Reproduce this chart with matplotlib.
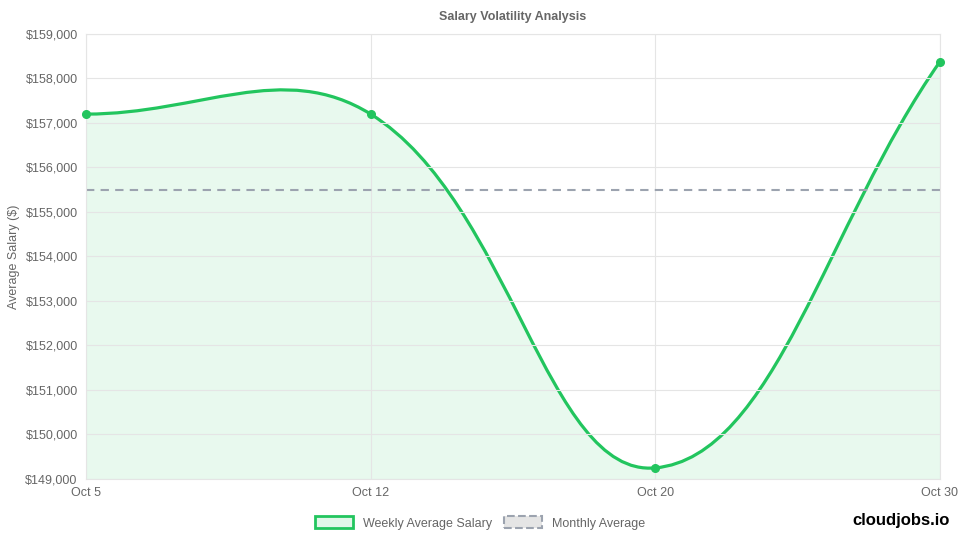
import numpy as np
import matplotlib.pyplot as plt
from matplotlib.path import Path
from matplotlib.patches import PathPatch, Patch

plt.rcParams['font.family'] = ['Liberation Sans', 'DejaVu Sans']

labels = ["Oct 5", "Oct 12", "Oct 20", "Oct 30"]
salary = [157200, 157200, 149250, 158380]
monthly_avg = 155500
green = "#22c55e"

fig = plt.figure(figsize=(9.6, 5.4), dpi=100)
ax = fig.add_axes([86/960, 1-479/540, 854/960, 445/540])
ax.set_xlim(0, 3)
ax.set_ylim(149000, 159000)

# Chart.js-style spline (tension 0.4) computed in pixel space
sx, sy = 854/3, 445/10000
px = np.arange(len(salary)) * sx
py = np.array(salary) * sy
t = 0.4
cps = []
for i in range(len(px)):
    p0 = (px[max(i-1, 0)], py[max(i-1, 0)])
    p1 = (px[i], py[i])
    p2 = (px[min(i+1, len(px)-1)], py[min(i+1, len(px)-1)])
    d01 = np.hypot(p1[0]-p0[0], p1[1]-p0[1])
    d12 = np.hypot(p2[0]-p1[0], p2[1]-p1[1])
    tot = d01 + d12
    s01 = d01/tot if tot else 0
    s12 = d12/tot if tot else 0
    fa, fb = t*s01, t*s12
    c_prev = (p1[0]-fa*(p2[0]-p0[0]), p1[1]-fa*(p2[1]-p0[1]))
    c_next = (p1[0]+fb*(p2[0]-p0[0]), p1[1]+fb*(p2[1]-p0[1]))
    cps.append((c_prev, c_next))

verts = [(px[0]/sx, py[0]/sy)]
codes = [Path.MOVETO]
for i in range(len(px)-1):
    a = cps[i][1]; b = cps[i+1][0]
    verts += [(a[0]/sx, a[1]/sy), (b[0]/sx, b[1]/sy), (px[i+1]/sx, py[i+1]/sy)]
    codes += [Path.CURVE4]*3
line_path = Path(verts, codes)
fill_path = Path(verts + [(3, 149000), (0, 149000), verts[0]],
                 codes + [Path.LINETO, Path.LINETO, Path.CLOSEPOLY])
ax.add_patch(PathPatch(fill_path, facecolor=green, alpha=0.1, edgecolor="none"))
ax.add_patch(PathPatch(line_path, facecolor="none", edgecolor=green, lw=2.3))
ax.plot(range(len(salary)), salary, "o", color=green, ms=5.5, clip_on=False, zorder=5)
ax.axhline(monthly_avg, color="#9ca3af", lw=1.5, ls=(0, (4, 3)))

ax.set_xticks(range(len(labels)))
ax.set_xticklabels(labels)
ax.set_yticks(range(149000, 159001, 1000))
ax.set_yticklabels([f"${v:,}" for v in range(149000, 159001, 1000)])
ax.grid(color="#e5e5e5", lw=0.8)
for s in ax.spines.values():
    s.set_color("#e5e5e5")
ax.tick_params(colors="#666666", labelsize=9, length=0, pad=6)
ax.set_ylabel("Average Salary ($)", color="#666666", fontsize=9)
ax.set_title("Salary Volatility Analysis", color="#666666", fontsize=9, fontweight="bold", pad=10)

handles = [Patch(facecolor=green + "22", edgecolor=green, lw=2),
           Patch(facecolor="#e5e5e5", edgecolor="#9ca3af", lw=1.5, ls="--")]
fig.legend(handles, ["Weekly Average Salary", "Monthly Average"], loc="center",
           bbox_to_anchor=(0.5, 1-523/540), ncol=2, frameon=False, fontsize=9,
           labelcolor="#666666", handlelength=3, handleheight=1.1, columnspacing=1)
fig.text(950/960, 1-521/540, "cloudjobs.io", ha="right", va="center",
         fontsize=12, fontweight="bold", color="black")
fig.savefig("out.png", dpi=100)
